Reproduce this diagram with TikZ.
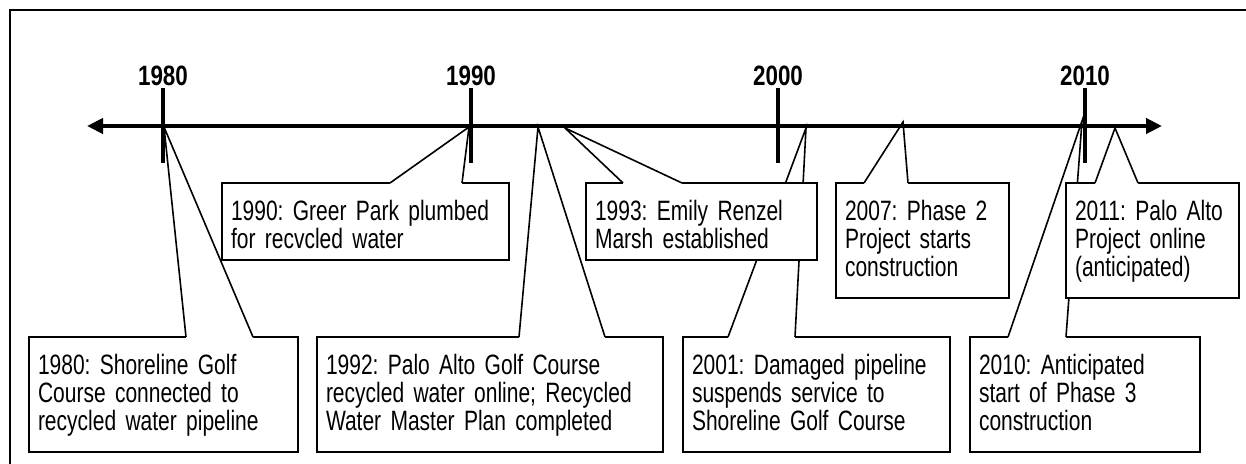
\documentclass[tikz,border=0pt]{standalone}
\usepackage{fontspec}
\setmainfont{Liberation Sans}[FakeStretch=0.75]
\newfontfamily\yearfont{Liberation Sans}[FakeStretch=0.8]
\frenchspacing
\usetikzlibrary{arrows.meta,calc}

\tikzset{
  note/.style={draw, fill=white, line width=1.8pt, anchor=north west, outer sep=0pt,
    inner xsep=9pt, inner ysep=0pt, align=left, text height=37pt,
    font=\fontsize{28}{28}\selectfont},
  note2/.style={note, text depth=40pt},
  note3/.style={note, text depth=78pt},
  pointerline/.style={line width=1.6pt},
  year/.style={font=\yearfont\bfseries\fontsize{28}{30}\selectfont, anchor=base},
  yeartick/.style={line width=3.5pt},
}

% white wedge from the top edge of a box up to a point on the axis
\newcommand{\pointer}[4]{%
  \fill[white] ($(#1.north west)+(#2,1.5)$) -- ($(#1.north west)+(#2,0)$) -- (#4)
    -- ($(#1.north west)+(#3,0)$) -- ($(#1.north west)+(#3,1.5)$) -- cycle;
  \draw[pointerline] ($(#1.north west)+(#2,0)$) -- (#4) -- ($(#1.north west)+(#3,0)$);}

\begin{document}
\begin{tikzpicture}[x=1pt,y=-1pt,>={Triangle[length=16pt,width=15pt]}]
  \useasboundingbox (0,0) rectangle (1246,463);
  \clip (0,0) rectangle (1246,463);

  % Frame
  \draw[line width=2.2pt] (10,10) rectangle (1260,480);

  % Points on the axis
  \coordinate (p1980) at (164,127);
  \coordinate (p1990) at (469,127);
  \coordinate (p1992) at (538,127);
  \coordinate (p1993) at (565,128);
  \coordinate (p2001) at (806,128);
  \coordinate (p2007) at (903,122);
  \coordinate (p2010) at (1082,121);
  \coordinate (p2011) at (1115,128);

  % Callouts
  \node[note3, text width=251pt] (n1980) at (29,337)
    {1980: Shoreline Golf\\Course connected to\\recycled water pipeline};
  \pointer{n1980}{157}{224}{p1980}

  \node[note2, text width=269pt] (n1990) at (222,183)
    {1990: Greer Park plumbed\\for recvcled water};
  \pointer{n1990}{168}{240}{p1990}

  \node[note3, text width=328pt] (n1992) at (317,337)
    {1992: Palo Alto Golf Course\\recycled water online; Recycled\\Water Master Plan completed};
  \pointer{n1992}{202}{288}{p1992}

  \node[note3, text width=249pt] (n2001) at (683,337)
    {2001: Damaged pipeline\\suspends service to\\Shoreline Golf Course};
  \pointer{n2001}{45}{112}{p2001}

  \node[note2, text width=213pt] (n1993) at (586,183)
    {1993: Emily Renzel\\Marsh established};
  \pointer{n1993}{37}{96}{p1993}

  \node[note3, text width=155pt] (n2007) at (836,183)
    {2007: Phase 2\\Project starts\\construction};
  \pointer{n2007}{28}{72}{p2007}

  \node[note3, text width=212pt] (n2010) at (970,337)
    {2010: Anticipated\\start of Phase 3\\construction};
  \pointer{n2010}{38}{96}{p2010}

  \node[note3, text width=155pt] (n2011) at (1066,183)
    {2011: Palo Alto\\Project online\\(anticipated)};
  \pointer{n2011}{29}{72}{p2011}

  % Timeline
  \draw[<->, line width=4pt] (87,126) -- (1162,126);
  \foreach \x/\yr in {163/1980,471/1990,778/2000,1085/2010}{
    \node[year] (y\yr) at (\x,85) {\yr};
    \draw[yeartick] (\x,88) -- (\x,163);
  }
\end{tikzpicture}
\end{document}
